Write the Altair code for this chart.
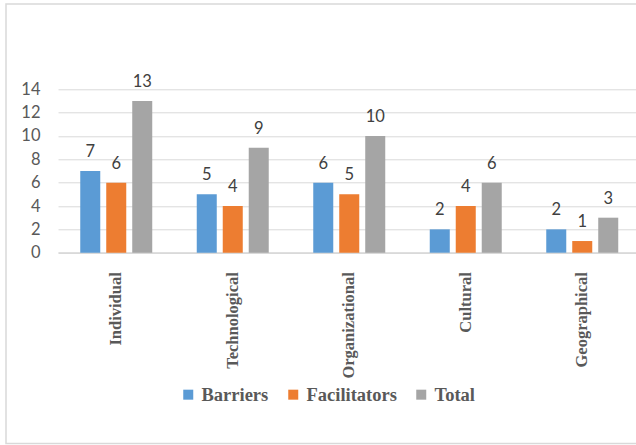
import altair as alt
import pandas as pd

categories = ["Individual", "Technological", "Organizational", "Cultural", "Geographical"]
series = ["Barriers", "Facilitators", "Total"]
barriers = [7, 5, 6, 2, 2]
facilitators = [6, 4, 5, 4, 1]
total = [13, 9, 10, 6, 3]
colors = ["#5B9BD5", "#ED7D31", "#A5A5A5"]

rows = []
for i, c in enumerate(categories):
    for s, vals in zip(series, [barriers, facilitators, total]):
        rows.append({"category": c, "series": s, "value": vals[i]})
df = pd.DataFrame(rows)

x = alt.X(
    "category:N", sort=categories,
    scale=alt.Scale(range=[0, 582.5], paddingInner=0.382, paddingOuter=0.191),
    axis=alt.Axis(title=None, labelAngle=-90, labelAlign="right", labelBaseline="middle",
                  labelFont="Liberation Serif", labelFontWeight="bold", labelFontSize=16.5,
                  labelColor="#595959", labelPadding=19, ticks=False,
                  domainColor="#d9d9d9", domainWidth=1.5, grid=False),
)
xo = alt.XOffset("series:N", sort=series, scale=alt.Scale(paddingInner=0.23, paddingOuter=0))
y = alt.Y(
    "value:Q", scale=alt.Scale(domain=[0, 14]),
    axis=alt.Axis(title=None, values=list(range(0, 15, 2)), ticks=False, domain=False,
                  gridColor="#d9d9d9", gridWidth=1, labelFont="Lato", labelFontSize=16.5,
                  labelColor="#595959", labelPadding=18),
)

bars = alt.Chart(df).mark_bar().encode(
    x=x, xOffset=xo, y=y,
    color=alt.Color("series:N", sort=series, scale=alt.Scale(domain=series, range=colors),
                    legend=alt.Legend(title=None, orient="none", legendX=121, legendY=296,
                                      direction="horizontal", symbolType="square",
                                      symbolSize=100, symbolStrokeWidth=0,
                                      labelFont="Liberation Serif", labelFontWeight="bold",
                                      labelFontSize=18.5, labelColor="#595959",
                                      columnPadding=15, labelOffset=4)),
)

labels = alt.Chart(df).mark_text(font="Lato", fontSize=16.5, color="#404040", dy=-14,
                                 baseline="alphabetic").encode(
    x=x, xOffset=xo, y=y, text="value:Q"
)

frame = alt.Chart(pd.DataFrame({"a": [0]})).mark_rect(
    fillOpacity=0, stroke="#d9d9d9", strokeWidth=1.5
).encode(x=alt.value(-52), x2=alt.value(700), y=alt.value(-85.3), y2=alt.value(354.2))

chart = alt.layer(frame, bars, labels).properties(
    width=578, height=163.4,
    autosize=alt.AutoSizeParams(type="none"),
    padding={"left": 58, "top": 89.3, "right": 0, "bottom": 192.3},
    background="white",
).configure_view(strokeWidth=0)

chart.save("out.html", embed_options={"renderer": "svg", "actions": False})
